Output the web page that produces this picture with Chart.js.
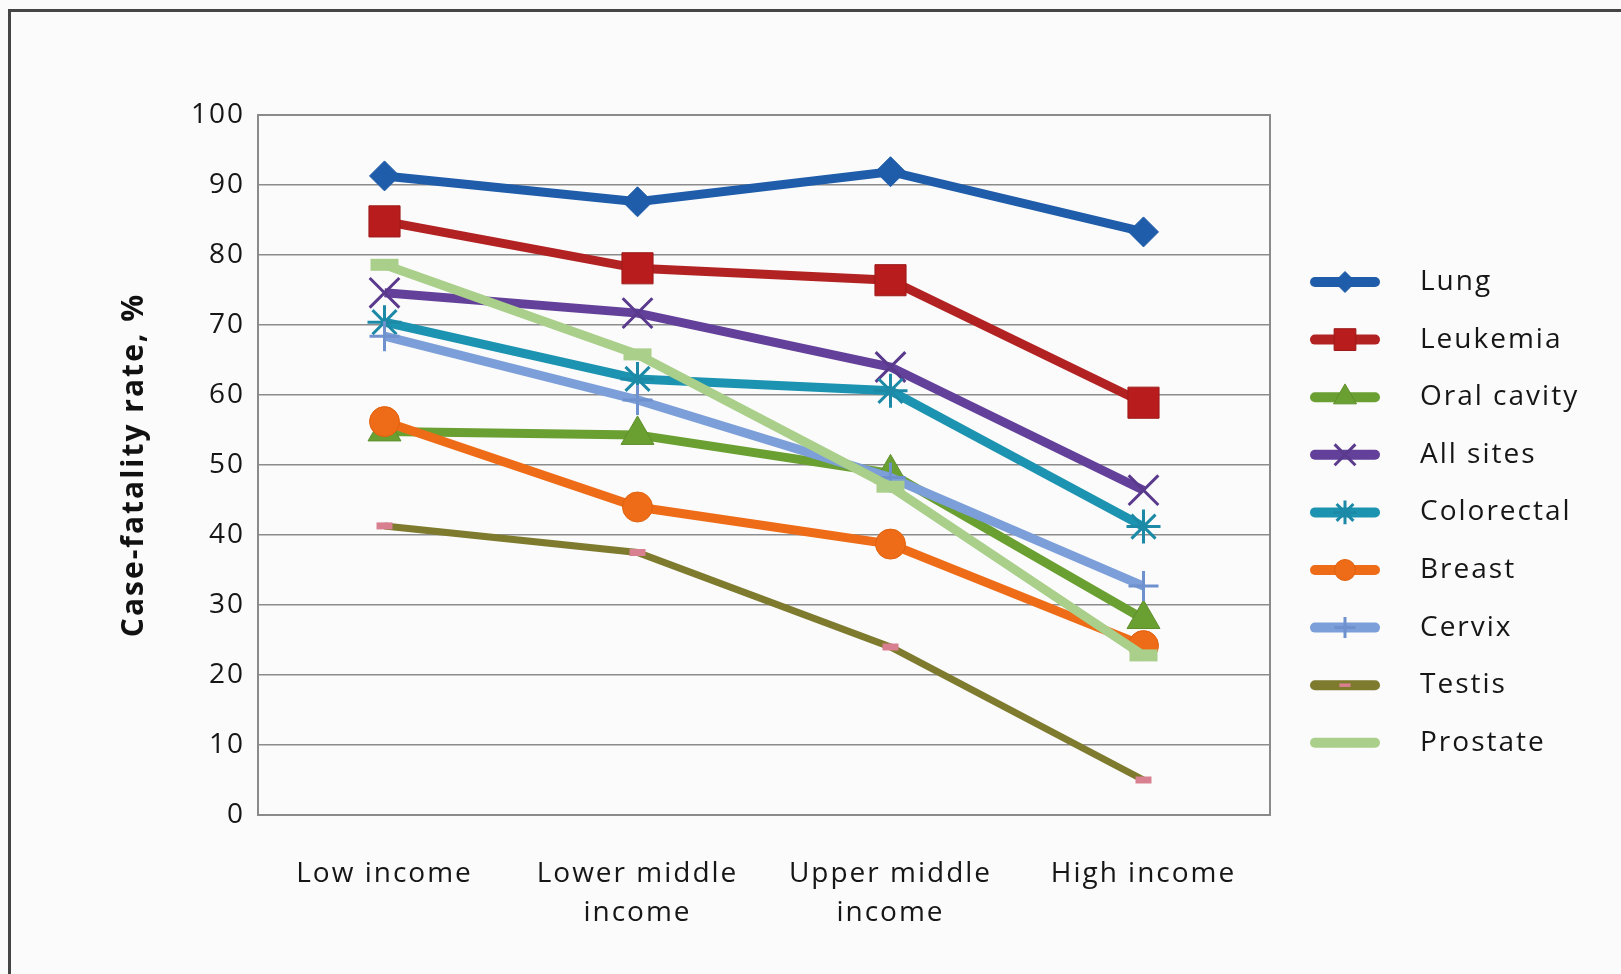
<!DOCTYPE html>
<html>
<head>
<meta charset="utf-8">
<title>Case-fatality rate by country income group</title>
<script src="https://cdn.jsdelivr.net/npm/chart.js@4/dist/chart.umd.min.js"></script>
<style>
  html, body { margin: 0; padding: 0; background: #fbfbfb; }
  #wrap { position: relative; width: 1621px; height: 974px; overflow: hidden; }
  #frame { position: absolute; left: 8px; top: 9px; right: -10px; bottom: -10px;
           border-top: 3px solid #454545; border-left: 3px solid #454545; }
  canvas { position: absolute; left: 0; top: 0; }
</style>
</head>
<body>
<div id="wrap">
  <div id="frame"></div>
  <canvas id="chart" width="1621" height="974"></canvas>
</div>
<script>
// Country income groups (x axis)
const categories = [['Low income'], ['Lower middle', 'income'], ['Upper middle', 'income'], ['High income']];

// Case-fatality rate, % by cancer site
const lung       = [91.3, 87.6, 91.9, 83.3];
const leukemia   = [84.8, 78.1, 76.4, 58.9];
const oralCavity = [54.8, 54.3, 48.8, 28.0];
const allSites   = [74.6, 71.7, 64.0, 46.4];
const colorectal = [70.4, 62.3, 60.6, 41.2];
const breast     = [56.2, 44.0, 38.7, 24.2];
const cervix     = [68.4, 59.3, 48.2, 32.7];
const testis     = [41.3, 37.5, 24.0, 5.0];
const prostate   = [78.6, 65.8, 46.9, 22.8];

// Y axis ticks
const yTicks = [0, 10, 20, 30, 40, 50, 60, 70, 80, 90, 100];

const seriesNames = ['Lung', 'Leukemia', 'Oral cavity', 'All sites', 'Colorectal', 'Breast', 'Cervix', 'Testis', 'Prostate'];
const seriesValues = [lung, leukemia, oralCavity, allSites, colorectal, breast, cervix, testis, prostate];

const styles = [
  { color: '#1f5ca9', point: 'rectRot',  r: 15, pbw: 1, fill: '#1f5ca9', pc: '#1f5ca9', width: 9 },
  { color: '#b32222', point: 'rect',     r: 22, pbw: 1, fill: '#b81c1c', pc: '#9e1a1a', width: 9 },
  { color: '#6a9f32', point: 'triangle', r: 19, pbw: 1, fill: '#6a9f32', pc: '#5e8f2b', width: 9 },
  { color: '#63409a', point: 'crossRot', r: 21, pbw: 3, fill: '#63409a', pc: '#5a3a8c', width: 9 },
  { color: '#1c93b0', point: 'star',     r: 17, pbw: 3, fill: '#1c93b0', pc: '#1c8aa6', width: 9 },
  { color: '#ee6b17', point: 'circle',   r: 15, pbw: 1, fill: '#ee6b17', pc: '#e0620f', width: 9 },
  { color: '#7c9fd9', point: 'cross',    r: 15, pbw: 3, fill: '#7c9fd9', pc: '#6f92cf', width: 9 },
  { color: '#7e7a2e', point: 'line',     r: 8,  pbw: 7, fill: '#d98090', pc: '#d98090', width: 7 },
  { color: '#a9cf8a', point: 'line',     r: 14, pbw: 12, fill: '#a9cf8a', pc: '#a9cf8a', width: 9 }
];

const datasets = seriesNames.map((name, i) => ({
  label: name,
  data: seriesValues[i],
  borderColor: styles[i].color,
  backgroundColor: styles[i].fill,
  borderWidth: styles[i].width,
  pointStyle: styles[i].point,
  pointRadius: styles[i].r,
  pointHoverRadius: styles[i].r,
  pointBorderWidth: styles[i].pbw,
  pointBackgroundColor: styles[i].fill,
  pointBorderColor: styles[i].pc,
  tension: 0,
  fill: false,
  clip: false,
  // later series are painted over earlier ones
  order: seriesNames.length - 1 - i
}));

const FONT = '"Open Sans", "Noto Sans", sans-serif';
const TRACKING = '2px';

// Slightly open letter spacing for all text on the canvas
const tracking = {
  id: 'tracking',
  beforeDraw(chart) { chart.ctx.letterSpacing = TRACKING; }
};

// Outline around the plotting area
const plotFrame = {
  id: 'plotFrame',
  beforeDatasetsDraw(chart) {
    const { ctx, chartArea: a } = chart;
    ctx.save();
    ctx.strokeStyle = '#8a8a8a';
    ctx.lineWidth = 2;
    ctx.strokeRect(a.left, a.top, a.right - a.left, a.bottom - a.top);
    ctx.restore();
  }
};

// Legend with line swatch, marker and name for each series
const sideLegend = {
  id: 'sideLegend',
  afterDraw(chart) {
    const { ctx } = chart;
    const x0 = 1315, x1 = 1375, tx = 1420, y0 = 282, dy = 57.6;
    ctx.save();
    ctx.letterSpacing = TRACKING;
    chart.data.datasets.forEach((ds, i) => {
      const y = y0 + i * dy;
      ctx.strokeStyle = ds.borderColor;
      ctx.lineWidth = 10;
      ctx.lineCap = 'round';
      ctx.beginPath();
      ctx.moveTo(x0, y);
      ctx.lineTo(x1, y);
      ctx.stroke();
      ctx.lineCap = 'butt';
      ctx.fillStyle = ds.pointBackgroundColor;
      ctx.strokeStyle = ds.pointBorderColor;
      ctx.lineWidth = ds.pointBorderWidth;
      if (ds.pointStyle === 'line') ctx.lineWidth = Math.max(3, ds.pointBorderWidth * 0.5);
      Chart.helpers.drawPoint(ctx, {
        pointStyle: ds.pointStyle,
        radius: ds.pointRadius * 0.7,
        rotation: 0,
        borderWidth: ctx.lineWidth
      }, (x0 + x1) / 2, y);
      ctx.fillStyle = '#161616';
      ctx.font = '28px ' + FONT;
      ctx.textBaseline = 'middle';
      ctx.textAlign = 'left';
      ctx.fillText(ds.label, tx, y);
    });
    ctx.restore();
  }
};

const LEFT_PAD = 116, PLOT_LEFT = 258, PLOT_BOTTOM = 815, BOTTOM_PAD = 20;

new Chart(document.getElementById('chart'), {
  type: 'line',
  data: { labels: categories, datasets },
  options: {
    responsive: false,
    devicePixelRatio: 1,
    animation: false,
    events: [],
    layout: { padding: { left: LEFT_PAD, top: 115, right: 351, bottom: BOTTOM_PAD } },
    plugins: { legend: { display: false }, tooltip: { enabled: false } },
    scales: {
      x: {
        offset: true,
        grid: { display: false, drawTicks: false },
        border: { display: false },
        afterFit(scale) { scale.height = 974 - PLOT_BOTTOM - BOTTOM_PAD; },
        ticks: {
          color: '#161616',
          font: { family: FONT, size: 28, lineHeight: 1.39 },
          padding: 40,
          maxRotation: 0,
          minRotation: 0,
          autoSkip: false
        }
      },
      y: {
        min: 0,
        max: 100,
        afterBuildTicks(scale) { scale.ticks = yTicks.map(v => ({ value: v })); },
        afterFit(scale) { scale.width = PLOT_LEFT - LEFT_PAD; },
        grid: { color: '#8c8c8c', lineWidth: 1.5, drawTicks: false },
        border: { display: false },
        ticks: {
          color: '#161616',
          font: { family: FONT, size: 28 },
          padding: 13
        },
        title: {
          display: true,
          text: 'Case-fatality rate, %',
          color: '#111111',
          font: { family: FONT, size: 30, weight: 'bold' },
          padding: 0
        }
      }
    }
  },
  plugins: [tracking, plotFrame, sideLegend]
});
</script>
</body>
</html>
